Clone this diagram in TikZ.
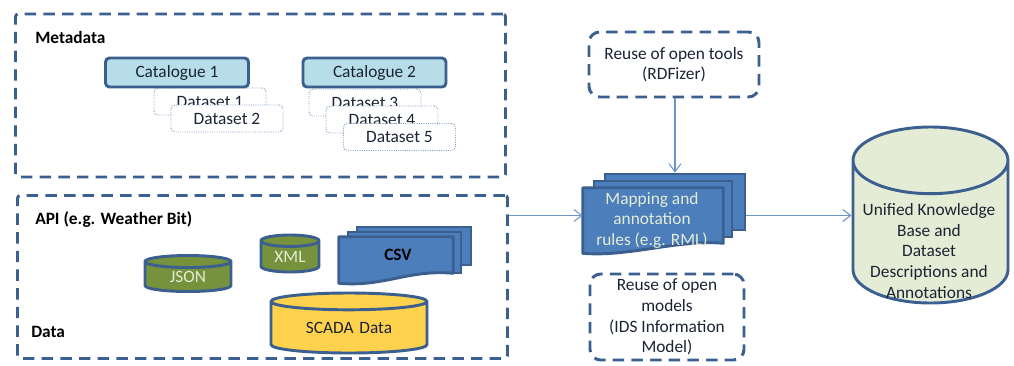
\documentclass[tikz,border=0pt]{standalone}
\usepackage{fontspec}
\setmainfont{Carlito}
\usetikzlibrary{shapes.geometric,arrows.meta,calc}
\definecolor{edgeblue}{HTML}{3B6090}
\definecolor{sheetblue}{HTML}{4C7EBB}
\definecolor{arrowblue}{HTML}{6D95C8}
\definecolor{cataloguefill}{HTML}{B6DDE8}
\definecolor{drumgreen}{HTML}{76923C}
\definecolor{drumyellow}{HTML}{FFD24D}
\definecolor{kbfill}{HTML}{E4ECD5}
\definecolor{dotblue}{HTML}{7F9DC0}
\definecolor{darktext}{HTML}{1B2433}
\newcommand{\bodyfont}{\fontsize{13}{15.4}\selectfont}
\tikzset{
	boxsize/.style 2 args={minimum width=#1*.75pt, minimum height=#2*.75pt, inner sep=0pt},
	dashbox/.style={draw=edgeblue, line width=2.2pt, dash pattern=on 8.6pt off 5.4pt},
	boldlabel/.style={anchor=west, inner sep=0pt, font=\bodyfont\bfseries},
	catalogue/.style={draw=edgeblue, line width=2.2pt, fill=cataloguefill, rounded corners=3pt, text=darktext, boxsize={143}{29}},
	dataset/.style={draw=dotblue, densely dotted, line width=.7pt, fill=white, rounded corners=3pt, text=darktext, boxsize={112}{27}},
	drum/.style={cylinder, shape border rotate=90, anchor=shape center, draw=edgeblue, line width=2.2pt, inner sep=0pt, align=center},
	sheet/.style={draw=edgeblue, line width=2.2pt, fill=sheetblue, boxsize={#1}},
	flow/.style={draw=arrowblue, line width=.8pt, -{Straight Barb[length=6pt,width=9pt]}}
}
\newcommand{\wavesheet}[1]{
	\draw [draw=edgeblue, line width=2.2pt, line join=round, fill=sheetblue] (#1.north west) -- (#1.north east) -- (#1.south east)
		.. controls +(-45,-4) and +(45,4) .. ($(#1.south west)+(0,10)$) -- cycle;
}
\begin{document}
\begin{tikzpicture}[x=.75pt, y=-.75pt, font=\bodyfont]
\useasboundingbox (0,0) rectangle (1014,365);

% the two source boxes
\node [dashbox, rounded corners=2pt, boxsize={490}{163}] (metabox) at (260.5,95.5) {};
\node [dashbox, rounded corners=2pt, boxsize={490}{163}] (databox) at (262.5,277) {};
\node [boldlabel] (metadata) at (35,37) {Metadata};
\node [boldlabel] (api) at (35,220) {API (e.g. Weather Bit)};
\node [boldlabel] (datalabel) at (31,332) {Data};

% catalogues
\node [dataset] (set1) at (210,101.5) {Dataset 1};
\node [dataset] (set2) at (227,118.5) {Dataset 2};
\node [dataset] (set3) at (365,102.5) {Dataset 3};
\node [dataset] (set4) at (382,119.5) {Dataset 4};
\node [dataset] (set5) at (399.5,137) {Dataset 5};
\node [catalogue] (cat1) at (177,72.5) {Catalogue 1};
\node [catalogue] (cat2) at (374.5,72.5) {Catalogue 2};

% data stores
\node [drum, fill=drumgreen, text=kbfill, text width=40pt, boxsize={86}{36}, aspect=.225] (json) at (188,273.5) {JSON};
\node [drum, fill=drumgreen, text=kbfill, text width=40pt, boxsize={58}{37}, aspect=.215] (xml) at (290,253.5) {XML};
\node [drum, fill=drumyellow, text=darktext, text width=70pt, boxsize={156}{60}, aspect=.18] (scada) at (349,323) {SCADA Data};
\node [sheet={114}{38}] (csvback) at (414,246) {};
\node [sheet={113}{41}] (csvmid) at (404.5,252.5) {};
\node [boxsize={114}{36}] (csvfront) at (396,255) {};
\wavesheet{csvfront}
\node [font=\bodyfont\bfseries] (csvtext) at (398,255) {CSV};

% mapping rules
\node [sheet={140}{56}] (mapback) at (675,202) {};
\node [sheet={138}{56}] (mapmid) at (663,209) {};
\node [boxsize={140}{55}] (mapfront) at (653,215.5) {};
\wavesheet{mapfront}
\node [text=kbfill, align=center] (maptext) at (652,220) {Mapping and\\annotation\\rules (e.g. RML)};

\node [dashbox, rounded corners=8pt, boxsize={170}{65}, align=center, text=darktext] (tools) at (674,64.5) {Reuse of open tools\\(RDFizer)};
\node [dashbox, rounded corners=8pt, boxsize={154}{86}, align=center, text=darktext] (models) at (667,317) {Reuse of open\\models\\(IDS Information\\Model)};

% knowledge base
\node [drum, fill=kbfill, text width=100pt, boxsize={155}{176}, aspect=.5] (kb) at (930.5,215) {};
\node [align=center, text=darktext] (kbtext) at (929,251) {Unified Knowledge\\Base and\\Dataset\\Descriptions and\\Annotations};

\draw [flow] (tools.south -| mapback) -- (mapback.north);
\draw [flow] (databox.east |- mapfront) -- (mapfront.west);
\draw [flow] (mapback.east |- mapfront) -- (kb.west |- mapfront);
\end{tikzpicture}
\end{document}
